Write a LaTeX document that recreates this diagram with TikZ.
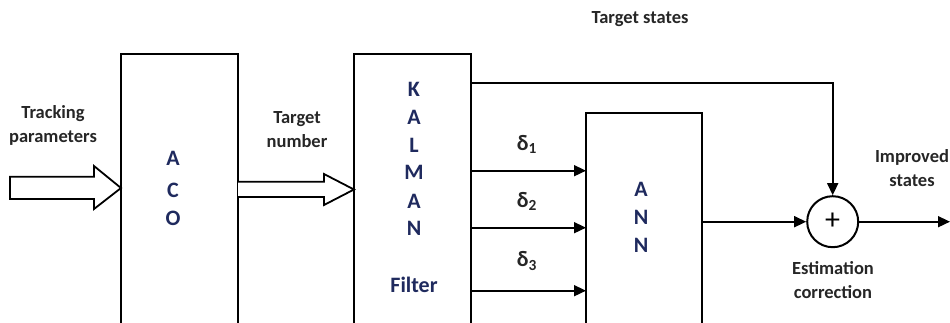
\documentclass[tikz,border=0pt]{standalone}
\usepackage{fontspec}
\setmainfont{Carlito}
\usetikzlibrary{arrows.meta}
\definecolor{navy}{HTML}{1F2A5E}
\definecolor{lbl}{HTML}{262626}
\tikzset{
  blk/.style={draw=black, line width=2pt, fill=white},
  conn/.style={line width=1.6pt, -{Triangle[length=12pt,width=11pt]}},
  inner/.style={text=navy, font=\fontsize{22}{26}\selectfont\bfseries, inner sep=0pt},
  lab/.style={text=lbl, font=\fontsize{18.5}{24}\selectfont\bfseries, align=center, inner sep=0pt},
  dlab/.style={lab, font=\fontsize{22}{26}\selectfont\bfseries},
  fat/.style={draw=black, line width=1.8pt, fill=white, line join=miter},
}
\begin{document}
\begin{tikzpicture}[x=1pt,y=-1pt]
\useasboundingbox (0,0) rectangle (950,322);
% boxes (cut off at bottom)
\path[blk] (121,330) -- (121,53.5) -- (238,53.5) -- (238,330);
\path[blk] (354,330) -- (354,54) -- (471,54) -- (471,330);
\path[blk] (586,330) -- (586,113) -- (702,113) -- (702,330);
% texts in boxes
\node[inner] (a1) at (173,158) {A};
\node[inner] (a2) at (173,190) {C};
\node[inner] (a3) at (173,218) {O};
\node[inner] (k1) at (414,89) {K};
\node[inner] (k2) at (414,117) {A};
\node[inner] (k3) at (414,145) {L};
\node[inner] (k4) at (414,172) {M};
\node[inner] (k5) at (414,201) {A};
\node[inner] (k6) at (414,228) {N};
\node[inner] (k7) at (414,285) {Filter};
\node[inner] (n1) at (641,189) {A};
\node[inner] (n2) at (641,217) {N};
\node[inner] (n3) at (641,245) {N};
% block arrows
\draw[fat] (10,176.7) -- (94,176.7) -- (94,166) -- (121,188) -- (94,209) -- (94,199) -- (10,199) -- cycle;
\draw[fat] (238,181.7) -- (324,181.7) -- (324,174) -- (354,189.5) -- (324,205) -- (324,197) -- (238,197);
% sum node
\node[draw, line width=2pt, circle, minimum size=51pt, inner sep=0pt, font=\fontsize{30}{30}\selectfont] (sum) at (832.7,221.7) {+};
\coordinate (ts) at (471,82.7);
\coordinate (out) at (950,221.7);
\draw[conn] (ts) -| (sum.north);
\draw[conn] (702,221.7) -- (sum.west);
\draw[conn] (sum.east) -- (out);
% delta arrows
\coordinate (d1s) at (471,170.7);
\coordinate (d2s) at (471,227.7);
\coordinate (d3s) at (471,290.7);
\draw[conn] (d1s) -- (586,170.7);
\draw[conn] (d2s) -- (586,227.7);
\draw[conn] (d3s) -- (586,290.7);
\node[dlab] (dl1) at (527,144) {δ\textsubscript{1}};
\node[dlab] (dl2) at (527,201) {δ\textsubscript{2}};
\node[dlab] (dl3) at (527,261) {δ\textsubscript{3}};
% labels
\node[lab] (tp) at (53,125) {Tracking\\parameters};
\node[lab] (tn) at (297,130) {Target\\number};
\node[lab] (tst) at (640,19) {Target states};
\node[lab] (is) at (912,168.5) {Improved\\states};
\node[lab] (ec) at (833,280.5) {Estimation\\correction};
\end{tikzpicture}
\end{document}
